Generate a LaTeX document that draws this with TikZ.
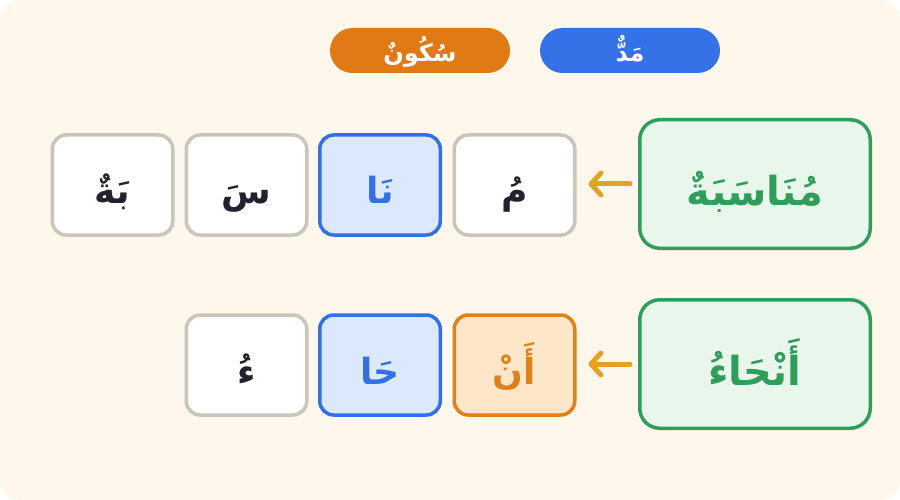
\documentclass[tikz,border=0pt]{standalone}
\usepackage{fontspec}
\TeXXeTstate=1
\newfontfamily\arabicfont[Script=Arabic]{DejaVu Sans}
\usetikzlibrary{arrows.meta}
\definecolor{bg}{HTML}{FEF7EB}
\definecolor{greyb}{HTML}{C9C5B9}
\definecolor{darktxt}{HTML}{22222E}
\definecolor{blueb}{HTML}{3370E3}
\definecolor{bluef}{HTML}{DCE8FC}
\definecolor{orangeb}{HTML}{E0801A}
\definecolor{orangef}{HTML}{FEE6C9}
\definecolor{greenb}{HTML}{2E9E5A}
\definecolor{greenf}{HTML}{E9F6EC}
\definecolor{arrowc}{HTML}{E3A224}
\definecolor{pillo}{HTML}{E07A14}
\definecolor{pillb}{HTML}{3572E8}
\begin{document}
\begin{tikzpicture}[x=1pt,y=-1pt,
  seg/.style={draw=greyb, fill=white, line width=3.5pt, rounded corners=14pt,
    minimum width=120.5pt, minimum height=100pt, inner sep=0pt, text=darktxt,
    text height=40pt, text depth=2pt,
    font=\arabicfont\bfseries\fontsize{36}{40}\selectfont},
  madd/.style={seg, draw=blueb, fill=bluef, text=blueb},
  sukun/.style={seg, draw=orangeb, fill=orangef, text=orangeb},
  word/.style={draw=greenb, fill=greenf, line width=3.5pt, rounded corners=20pt,
    minimum width=230.5pt, minimum height=128.5pt, inner sep=0pt, text=greenb,
    text height=44pt, text depth=2pt,
    font=\arabicfont\bfseries\fontsize{40}{44}\selectfont},
  pill/.style={rounded corners=22.5pt, minimum width=180pt, minimum height=45pt,
    inner sep=0pt, text=white, text height=24pt, text depth=2pt,
    font=\arabicfont\bfseries\fontsize{24}{26}\selectfont},
  arr/.style={draw=arrowc, line width=5pt, line cap=round,
    -{Straight Barb[round, length=10pt, width=22pt]}, shorten <=8pt, shorten >=12pt}
]
\useasboundingbox (0,0) rectangle (900,500);
\fill[bg, rounded corners=20pt] (0,0) rectangle (900,500);

\node[pill, fill=pillo] (psukun) at (420,50.5) {\beginR سُكُونٌ\endR};
\node[pill, fill=pillb] (pmadd) at (630,50.5) {\beginR مَدٌّ\endR};

% row 1
\node[word] (w1) at (755,184) {\beginR مُنَاسَبَةٌ\endR};
\node[seg] (a4) at (514.5,185) {\beginR مُ\endR};
\node[madd] (a3) at (380,185) {\beginR نَا\endR};
\node[seg] (a2) at (246.5,185) {\beginR سَ\endR};
\node[seg] (a1) at (112.5,185) {\beginR بَةٌ\endR};
\draw[arr] (w1.west) -- (a4.east |- w1.west);

% row 2
\node[word] (w2) at (755,364) {\beginR أَنْحَاءُ\endR};
\node[sukun] (b3) at (514.5,365) {\beginR أَنْ\endR};
\node[madd] (b2) at (380,365) {\beginR حَا\endR};
\node[seg] (b1) at (246.5,365) {\beginR ءُ\endR};
\draw[arr] (w2.west) -- (b3.east |- w2.west);
\end{tikzpicture}
\end{document}
